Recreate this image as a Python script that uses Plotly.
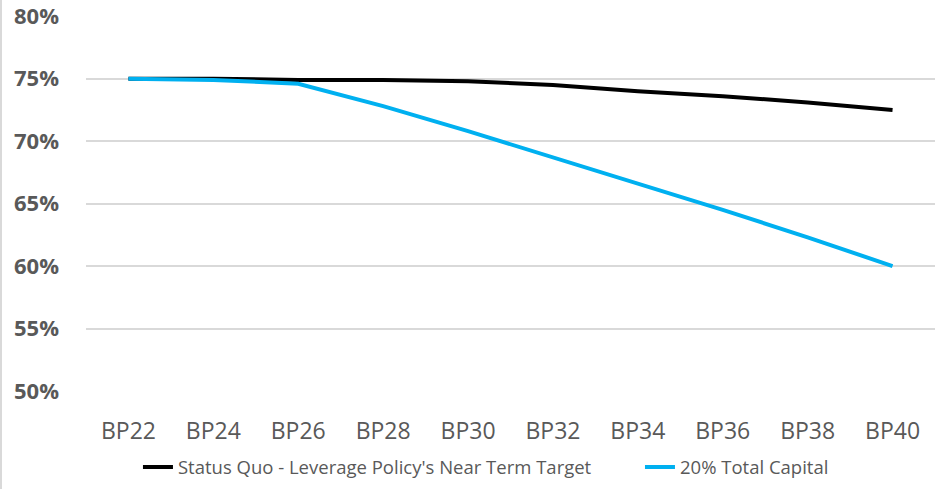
import plotly.graph_objects as go

# ---------- Data ----------
periods = ["BP22", "BP24", "BP26", "BP28", "BP30", "BP32", "BP34", "BP36", "BP38", "BP40"]
status_quo = [0.750, 0.750, 0.749, 0.749, 0.748, 0.745, 0.740, 0.736, 0.731, 0.725]
total_capital_20 = [0.750, 0.749, 0.746, 0.728, 0.708, 0.687, 0.666, 0.645, 0.623, 0.600]

grey = "#595959"

# ---------- Plot ----------
fig = go.Figure()
fig.add_trace(go.Scatter(
    x=periods, y=status_quo,
    mode="lines",
    line=dict(color="#000000", width=4),
    name="Status Quo - Leverage Policy's Near Term Target",
    legend="legend",
))
fig.add_trace(go.Scatter(
    x=periods, y=total_capital_20,
    mode="lines",
    line=dict(color="#00B0F0", width=4),
    name="20% Total Capital",
    legend="legend2",
))

legend_style = dict(
    orientation="h", y=-0.204, yanchor="middle", xanchor="left",
    font=dict(size=18.5, color=grey), bgcolor="rgba(0,0,0,0)",
)

fig.update_layout(
    width=935, height=489,
    paper_bgcolor="#fff",
    plot_bgcolor="#fff",
    margin=dict(l=86, r=0, t=16, b=98, autoexpand=False),
    font=dict(family="Open Sans, Liberation Sans, sans-serif", color=grey),
    showlegend=True,
    legend=dict(x=0.0612, **legend_style),
    legend2=dict(x=0.6525, **legend_style),
    xaxis=dict(
        type="category", range=[-0.5, 9.5],
        showgrid=False, showline=False, ticks="",
        tickfont=dict(size=23, color=grey),
        ticklabelstandoff=24,
    ),
    yaxis=dict(
        range=[0.5, 0.8002], dtick=0.05, tickformat=".0%",
        showgrid=True, gridcolor="#d9d9d9", gridwidth=1.5,
        zeroline=False, showline=False, ticks="",
        tickfont=dict(size=22, color=grey, weight="bold"),
        ticklabelstandoff=26, ticklabeloverflow="allow",
    ),
    shapes=[dict(
        type="line", xref="paper", yref="paper",
        xsizemode="pixel", xanchor=0, x0=-85, x1=-85,
        y0=-0.3, y1=1.05,
        line=dict(color="#d9d9d9", width=2),
    )],
)

# the page body has a default 8px margin; drop it so the figure fills the window
fig.write_html("out.html", config={"displayModeBar": False},
               post_script="document.body.style.margin = '0';")
